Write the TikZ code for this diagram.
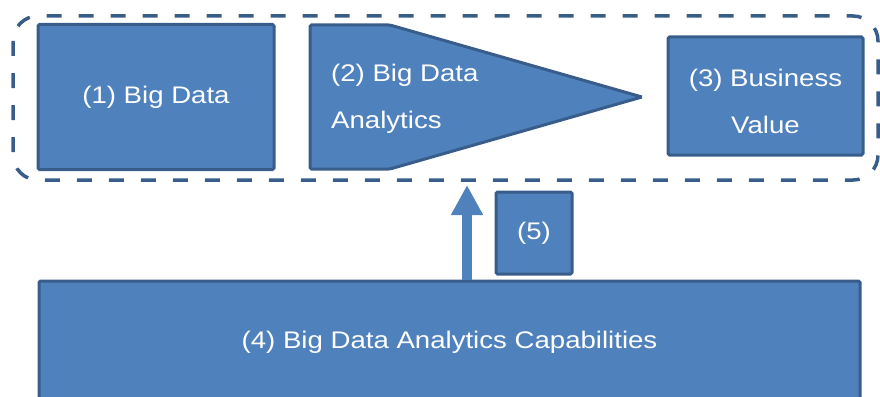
\documentclass[tikz,border=0pt]{standalone}
\usepackage{fontspec}
\setmainfont{Liberation Sans}[FakeStretch=1.15]
\usetikzlibrary{arrows.meta}
\definecolor{boxfill}{HTML}{4F81BD}
\definecolor{boxline}{HTML}{385D8A}
\begin{document}
\begin{tikzpicture}[x=1pt,y=-1pt,
  box/.style={draw=boxline,fill=boxfill,line width=3pt,rounded corners=1.5pt},
  blocknode/.style={box,text=white,font=\fontsize{24}{47}\selectfont,inner sep=0pt,align=center},
  lbl/.style={text=white,font=\fontsize{24}{47}\selectfont,inner sep=0pt},
  grp/.style={draw=boxline,line width=3.5pt,dash pattern=on 15pt off 17pt,rounded corners=25pt}]
\useasboundingbox (0,0) rectangle (880,396);

\draw[grp] (13,16) rectangle (878,180);

\node[blocknode,minimum width=236pt,minimum height=145pt] (bd) at (156,97) {(1) Big Data};
\draw[box] (310,25) -- (390,25) -- (642,97) -- (390,169) -- (310,169) -- cycle;
\node[lbl,anchor=west,align=left] (bda) at (331,99) {(2) Big Data\\Analytics};
\node[blocknode,minimum width=195pt,minimum height=118pt,text height=75pt] (bv) at (765.5,96) {(3) Business\\Value};

\node[blocknode,minimum width=821pt,minimum height=123pt] (cap) at (449.5,342.5) {(4) Big Data Analytics Capabilities};
\node[blocknode,minimum width=76pt,minimum height=82pt] (five) at (534,233) {(5)};

\coordinate (tip) at (467,185);
\draw[boxfill,line width=10pt,-{Triangle[width=30pt,length=30pt]}] (tip |- cap.north) -- (tip);
\end{tikzpicture}
\end{document}
